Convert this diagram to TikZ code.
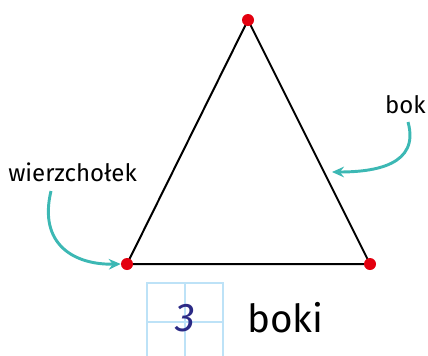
\documentclass[tikz,border=0pt]{standalone}
\usepackage{fontspec}
\setmainfont{Fira Sans}
\usetikzlibrary{arrows.meta,positioning}
\definecolor{vred}{HTML}{E3000F}
\definecolor{teal}{HTML}{3CB8B4}
\definecolor{gridblue}{HTML}{BDE2F7}
\definecolor{digitblue}{HTML}{2B2A86}

\begin{document}
\begin{tikzpicture}[x=0.75pt, y=-0.75pt,
  vertex/.style={circle, fill=vred, inner sep=0pt, minimum size=9pt},
  side/.style={line width=1.5pt, line join=miter},
  pointer/.style={draw=teal, line width=2.2pt, -{Stealth[length=9pt, width=8pt, inset=3pt]}},
  lbl/.style={font=\fontsize{18}{21}\selectfont, inner sep=0pt},
  cell/.style={draw=gridblue, line width=1.7pt}
]
  \useasboundingbox (0,0) rectangle (428,355);

  % triangle
  \coordinate (T) at (248,20);
  \coordinate (L) at (127,264);
  \coordinate (R) at (370,264);
  \draw[side] (T) -- (R) -- (L) -- cycle;
  \node[vertex] (vT) at (T) {};
  \node[vertex] (vL) at (L) {};
  \node[vertex] (vR) at (R) {};

  % labels and pointers
  \node[lbl, anchor=base west] (wierz) at (8,181) {wierzchołek};
  \node[lbl, anchor=base east] (bok) at (426,113) {bok};
  \coordinate (onside) at (332,172);
  \draw[pointer] (51,191) .. controls (38,245) and (75,265) .. (vL.west);
  \draw[pointer] (408,122) .. controls (420,165) and (375,172) .. (onside);

  % counting box
  \draw[cell] (147,358) -- (147,283) -- (223,283) -- (223,358);
  \draw[cell] (185,283) -- (185,358);
  \draw[cell] (147,322) -- (223,322);
  \node[font=\fontsize{30}{32}\selectfont\itshape, text=digitblue, inner sep=0pt] (num) at (185,318) {3};
  \node[font=\fontsize{29}{32}\selectfont, inner sep=0pt, anchor=base west] (boki) at (247,332) {boki};
\end{tikzpicture}
\end{document}
